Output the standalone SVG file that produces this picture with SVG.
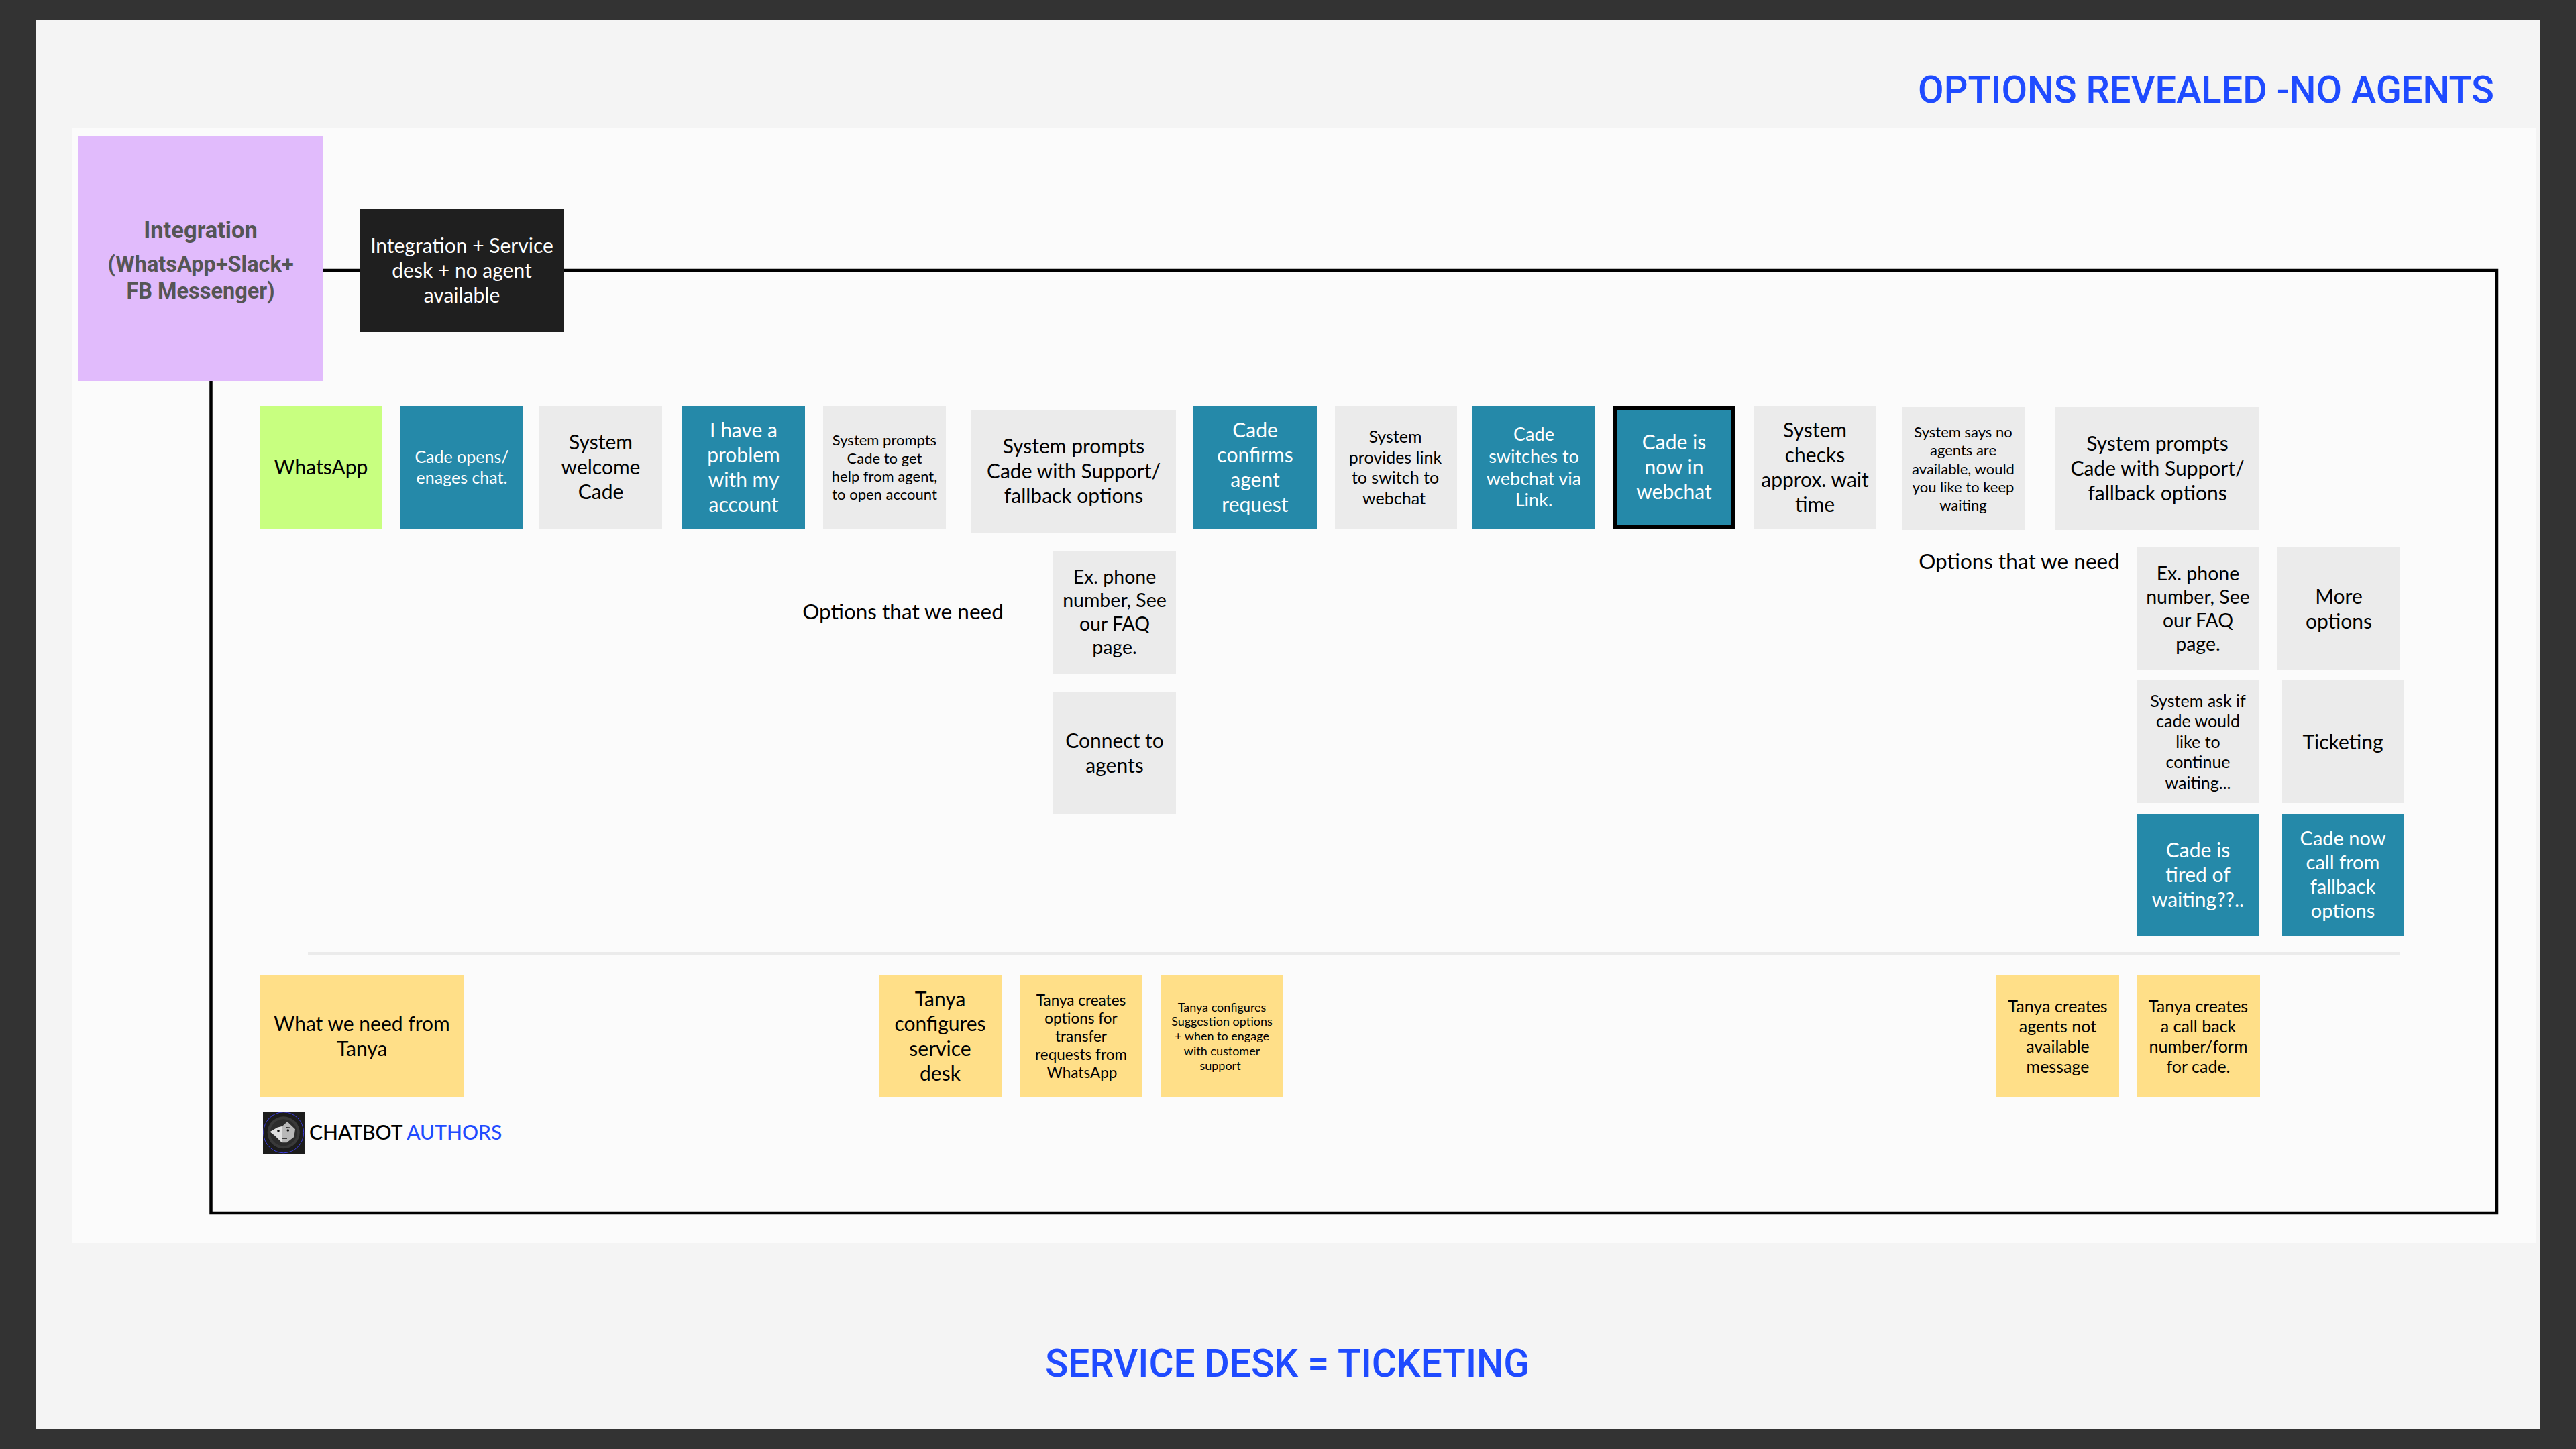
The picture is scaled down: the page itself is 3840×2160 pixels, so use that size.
<svg xmlns="http://www.w3.org/2000/svg" width="3840" height="2160" viewBox="0 0 3840 2160">
<style>
text{font-family:"Lato","Open Sans","Liberation Sans",sans-serif;text-anchor:middle;fill:#000}
.w{fill:#fff}
.a{font-size:30px}.b{font-size:25px}.c{font-size:22px}.d{font-size:27px}.e{font-size:28.5px}.f{font-size:29px}.g{font-size:18px}.h{font-size:22.5px}.o{font-size:31.500px}
.teal{fill:#2589a9}.gray{fill:#ebebeb}.yel{fill:#ffdf88}
.title{font-family:"Roboto","Liberation Sans",sans-serif;font-weight:500;fill:#1f4bff}
.int{font-family:"Roboto","Liberation Sans",sans-serif;font-weight:700;fill:#555}
</style>
<rect width="3840" height="2160" fill="#333333"/>
<rect x="53" y="30" width="3733" height="2100" fill="#f4f4f4"/>
<rect x="107" y="191" width="3673" height="1662" fill="#fbfbfb"/>
<text class="title" x="3718" y="153" font-size="56" style="text-anchor:end">OPTIONS REVEALED -NO AGENTS</text>
<text class="title" x="1919" y="2052" font-size="56.800">SERVICE DESK = TICKETING</text>
<g id="connectors" fill="none" stroke="#000" stroke-width="4.5">
<path d="M481 403H536M841 403H3722V1808H314.500V568"/>
<path d="M459 1421H3578" stroke="#ebebeb" stroke-width="4"/>
</g>
<g id="integration"><rect x="116" y="203" width="365" height="365" fill="#e1bbfc"/>
<text class="int" font-size="34.500"><tspan x="299" y="355">Integration</tspan></text><text class="int" font-size="32.500"><tspan x="299" y="405">(WhatsApp+Slack+</tspan><tspan x="299" y="445">FB Messenger)</tspan></text></g>
<g id="scenario"><rect x="536" y="312" width="305" height="183" fill="#1f1f1f"/>
<text class="a w"><tspan x="688.500" y="376.500">Integration + Service</tspan><tspan x="688.500" y="413.500">desk + no agent</tspan><tspan x="688.500" y="450.500">available</tspan></text></g>
<g id="n1"><rect x="387" y="605" width="183" height="183" fill="#c8ff80"/><text class="a"><tspan x="478.500" y="707">WhatsApp</tspan></text></g>
<g id="n2"><rect class="teal" x="597" y="605" width="183" height="183"/><text class="b w"><tspan x="688.500" y="690">Cade opens/</tspan><tspan x="688.500" y="721">enages chat.</tspan></text></g>
<g id="n3"><rect class="gray" x="804" y="605" width="183" height="183"/><text class="a"><tspan x="895.500" y="670">System</tspan><tspan x="895.500" y="707">welcome</tspan><tspan x="895.500" y="744">Cade</tspan></text></g>
<g id="n4"><rect class="teal" x="1017" y="605" width="183" height="183"/><text class="a w"><tspan x="1108.500" y="651.500">I have a</tspan><tspan x="1108.500" y="688.500">problem</tspan><tspan x="1108.500" y="725.500">with my</tspan><tspan x="1108.500" y="762.500">account</tspan></text></g>
<g id="n5"><rect class="gray" x="1227" y="605" width="183" height="183"/><text class="c"><tspan x="1318.500" y="664">System prompts</tspan><tspan x="1318.500" y="691">Cade to get</tspan><tspan x="1318.500" y="718">help from agent,</tspan><tspan x="1318.500" y="745">to open account</tspan></text></g>
<g id="n6"><rect class="gray" x="1448" y="611" width="305" height="183"/><text class="a"><tspan x="1600.500" y="676">System prompts</tspan><tspan x="1600.500" y="713">Cade with Support/</tspan><tspan x="1600.500" y="750">fallback options</tspan></text></g>
<g id="t1"><text class="o"><tspan x="1346" y="923">Options that we need</tspan></text></g>
<g id="n6a"><rect class="gray" x="1570" y="821" width="183" height="183"/><text class="e"><tspan x="1661.500" y="870">Ex. phone</tspan><tspan x="1661.500" y="905">number, See</tspan><tspan x="1661.500" y="940">our FAQ</tspan><tspan x="1661.500" y="975">page.</tspan></text></g>
<g id="n6b"><rect class="gray" x="1570" y="1031" width="183" height="183"/><text class="a"><tspan x="1661.500" y="1114.500">Connect to</tspan><tspan x="1661.500" y="1151.500">agents</tspan></text></g>
<g id="n7"><rect class="teal" x="1779" y="605" width="184" height="183"/><text class="a w"><tspan x="1871" y="651.500">Cade</tspan><tspan x="1871" y="688.500">confirms</tspan><tspan x="1871" y="725.500">agent</tspan><tspan x="1871" y="762.500">request</tspan></text></g>
<g id="n8"><rect class="gray" x="1990" y="605" width="182" height="183"/><text class="b"><tspan x="2080" y="660">System</tspan><tspan x="2080" y="690.500">provides link</tspan><tspan x="2080" y="721">to switch to</tspan><tspan x="2078" y="751.500">webchat</tspan></text></g>
<g id="n9"><rect class="teal" x="2195" y="605" width="183" height="183"/><text class="d w"><tspan x="2286.500" y="657">Cade</tspan><tspan x="2286.500" y="689.500">switches to</tspan><tspan x="2286.500" y="722.500">webchat via</tspan><tspan x="2286.500" y="755">Link.</tspan></text></g>
<g id="n10"><rect class="teal" x="2407" y="608" width="177" height="177" stroke="#000" stroke-width="6"/><text class="a w"><tspan x="2495.500" y="670">Cade is</tspan><tspan x="2495.500" y="707">now in</tspan><tspan x="2495.500" y="744">webchat</tspan></text></g>
<g id="n11"><rect class="gray" x="2614" y="605" width="183" height="183"/><text class="a"><tspan x="2705.500" y="651.500">System</tspan><tspan x="2705.500" y="688.500">checks</tspan><tspan x="2705.500" y="725.500">approx. wait</tspan><tspan x="2705.500" y="762.500">time</tspan></text></g>
<g id="n12"><rect class="gray" x="2835" y="607" width="183" height="183"/><text class="c"><tspan x="2926.500" y="652">System says no</tspan><tspan x="2926.500" y="679">agents are</tspan><tspan x="2926.500" y="706.500">available, would</tspan><tspan x="2926.500" y="734">you like to keep</tspan><tspan x="2926.500" y="761">waiting</tspan></text></g>
<g id="n13"><rect class="gray" x="3064" y="607" width="304" height="183"/><text class="a"><tspan x="3216" y="672">System prompts</tspan><tspan x="3216" y="709">Cade with Support/</tspan><tspan x="3216" y="746">fallback options</tspan></text></g>
<g id="t2"><text class="o"><tspan x="3010" y="848">Options that we need</tspan></text></g>
<g id="n13a"><rect class="gray" x="3185" y="816" width="183" height="183"/><text class="e"><tspan x="3276.500" y="865">Ex. phone</tspan><tspan x="3276.500" y="900">number, See</tspan><tspan x="3276.500" y="935">our FAQ</tspan><tspan x="3276.500" y="970">page.</tspan></text></g>
<g id="n13b"><rect class="gray" x="3395" y="816" width="183" height="183"/><text class="a"><tspan x="3486.500" y="899.500">More</tspan><tspan x="3486.500" y="936.500">options</tspan></text></g>
<g id="n13c"><rect class="gray" x="3185" y="1014" width="183" height="183"/><text class="b"><tspan x="3276.500" y="1053.500">System ask if</tspan><tspan x="3276.500" y="1084">cade would</tspan><tspan x="3276.500" y="1114.500">like to</tspan><tspan x="3276.500" y="1145">continue</tspan><tspan x="3276.500" y="1175.500">waiting...</tspan></text></g>
<g id="n13d"><rect class="gray" x="3401" y="1014" width="183" height="183"/><text class="a"><tspan x="3492.500" y="1117">Ticketing</tspan></text></g>
<g id="n13e"><rect class="teal" x="3185" y="1213" width="183" height="182"/><text class="a w"><tspan x="3276.500" y="1277.500">Cade is</tspan><tspan x="3276.500" y="1314.500">tired of</tspan><tspan x="3276.500" y="1351.500">waiting??..</tspan></text></g>
<g id="n13f"><rect class="teal" x="3401" y="1213" width="183" height="182"/><text class="f w"><tspan x="3492.500" y="1260">Cade now</tspan><tspan x="3492.500" y="1296">call from</tspan><tspan x="3492.500" y="1332">fallback</tspan><tspan x="3492.500" y="1368">options</tspan></text></g>
<g id="y1"><rect class="yel" x="387" y="1453" width="305" height="183"/><text class="a"><tspan x="539.500" y="1536.500">What we need from</tspan><tspan x="539.500" y="1573.500">Tanya</tspan></text></g>
<g id="y2"><rect class="yel" x="1310" y="1453" width="183" height="183"/><text class="a"><tspan x="1401.500" y="1499.500">Tanya</tspan><tspan x="1401.500" y="1536.500">configures</tspan><tspan x="1401.500" y="1573.500">service</tspan><tspan x="1401.500" y="1610.500">desk</tspan></text></g>
<g id="y3"><rect class="yel" x="1520" y="1453" width="183" height="183"/><text class="h"><tspan x="1611.500" y="1498.500">Tanya creates</tspan><tspan x="1611.500" y="1525.500">options for</tspan><tspan x="1611.500" y="1552.500">transfer</tspan><tspan x="1611.500" y="1579.500">requests from</tspan><tspan x="1613" y="1606.500">WhatsApp</tspan></text></g>
<g id="y4"><rect class="yel" x="1730" y="1453" width="183" height="183"/><text class="g"><tspan x="1821.500" y="1507.500">Tanya configures</tspan><tspan x="1821.500" y="1529">Suggestion options</tspan><tspan x="1821.500" y="1551">+ when to engage</tspan><tspan x="1821.500" y="1572.500">with customer</tspan><tspan x="1819" y="1594.500">support</tspan></text></g>
<g id="y5"><rect class="yel" x="2976" y="1453" width="183" height="183"/><text class="b"><tspan x="3067.500" y="1508.500">Tanya creates</tspan><tspan x="3067.500" y="1538.500">agents not</tspan><tspan x="3067.500" y="1568.500">available</tspan><tspan x="3067.500" y="1598.500">message</tspan></text></g>
<g id="y6"><rect class="yel" x="3186" y="1453" width="183" height="183"/><text class="b"><tspan x="3277" y="1508.500">Tanya creates</tspan><tspan x="3277" y="1538.500">a call back</tspan><tspan x="3277" y="1568.500">number/form</tspan><tspan x="3277" y="1598.500">for cade.</tspan></text></g>
<g id="logo"><rect x="392" y="1657" width="62" height="63" fill="#1c1c1c"/><circle cx="422.700" cy="1688.300" r="24" fill="#3a3a3a"/><circle cx="422.700" cy="1688.300" r="20" fill="#2c2c2c"/><ellipse cx="422.700" cy="1688.300" rx="30" ry="30.500" fill="none" stroke="#3d3de0" stroke-width="1"/><path d="M421 1678.700L428.300 1672L440 1683.300L438.300 1695L427.700 1703.300L420 1703.300Z" fill="#b8b8b8"/><path d="M402.300 1687.300L413.300 1680.700L421 1678.700L420 1703.300L410 1693.300Z" fill="#e0e0e0"/><circle cx="415" cy="1685.700" r="1.800" fill="#111"/><circle cx="429.300" cy="1685" r="1.800" fill="#111"/><path d="M426 1680.500L433 1681M420 1697.300H428" stroke="#222" stroke-width="1" fill="none"/></g>
<g id="brand"><text style="text-anchor:start;font-size:30px;font-weight:500"><tspan x="461" y="1699">CHATBOT </tspan><tspan style="fill:#1f4bff">AUTHORS</tspan></text></g>
</svg>
